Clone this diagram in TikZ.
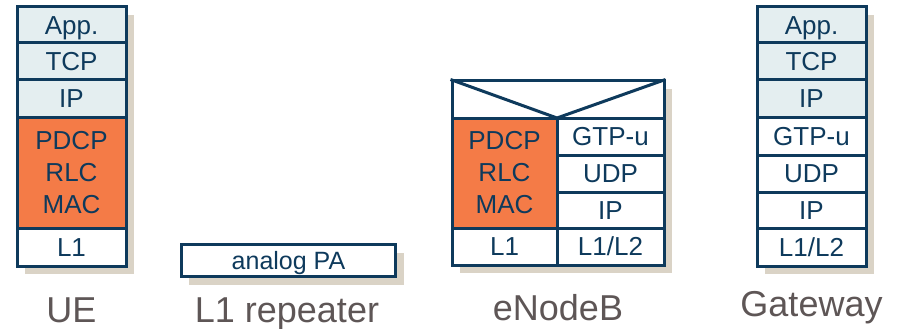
\documentclass[tikz,border=0pt]{standalone}
\usepackage{fontspec}
\setmainfont{Liberation Sans}
\definecolor{navy}{HTML}{0E3A5C}
\definecolor{lightb}{HTML}{E4EEF0}
\definecolor{orng}{HTML}{F47B47}
\definecolor{shad}{HTML}{DAD3C6}
\definecolor{lblgray}{HTML}{5E5656}
\begin{document}
\begin{tikzpicture}[x=1pt,y=-1pt,
  layer/.style={draw=navy, line width=3pt, text=navy, inner sep=0pt,
    font=\fontsize{26}{32}\selectfont, text height=18.6pt, text depth=0pt},
  multi/.style={draw=navy, line width=3pt, text=navy, inner sep=0pt,
    font=\fontsize{26}{32}\selectfont, align=center},
  lb/.style={fill=lightb},
  wh/.style={fill=white},
  og/.style={fill=orng},
  caption/.style={text=lblgray, font=\fontsize{36}{40}\selectfont, anchor=base, inner sep=0pt}
]
\useasboundingbox (0,0) rectangle (900,329);
% shadows
\fill[shad] (25,15) rectangle (134,274);
\fill[shad] (189,253) rectangle (404,285);
\fill[shad] (460,89) rectangle (672,273);
\fill[shad] (765,15) rectangle (874,274);

% UE
\node[layer,lb,minimum width=109pt,minimum height=36pt] (ueapp) at (71.5,25) {App.};
\node[layer,lb,minimum width=109pt,minimum height=37pt] (uetcp) at (71.5,61.5) {TCP};
\node[layer,lb,minimum width=109pt,minimum height=37pt] (ueip) at (71.5,98.5) {IP};
\node[multi,og,minimum width=109pt,minimum height=111pt] (uemac) at (71.5,172.5) {PDCP\\RLC\\MAC};
\node[layer,wh,minimum width=109pt,minimum height=38pt] (uel1) at (71.5,247) {L1};
\node[caption] (uelbl) at (71.5,322) {UE};

% L1 repeater
\node[layer,wh,minimum width=214pt,minimum height=32pt,font=\fontsize{25}{30}\selectfont,text height=17pt] (pa) at (288.5,260.5) {analog PA};
\node[caption] (replbl) at (287,322) {L1 repeater};

% eNodeB
\node[layer,wh,minimum width=212pt,minimum height=37pt] (enbhdr) at (558,99.5) {};
\draw[navy,line width=3pt,line join=round] (enbhdr.north west) -- (557,118) -- (enbhdr.north east);
\node[multi,og,minimum width=105pt,minimum height=110pt] (enbmac) at (504.5,173) {PDCP\\RLC\\MAC};
\node[layer,wh,minimum width=105pt,minimum height=37pt] (enbl1) at (504.5,246.5) {L1};
\node[layer,wh,minimum width=107pt,minimum height=37pt] (enbgtp) at (610.5,136.5) {GTP-u};
\node[layer,wh,minimum width=107pt,minimum height=37pt] (enbudp) at (610.5,173.5) {UDP};
\node[layer,wh,minimum width=107pt,minimum height=36pt] (enbip) at (610.5,210) {IP};
\node[layer,wh,minimum width=107pt,minimum height=37pt] (enbl2) at (610.5,246.5) {L1/L2};
\node[caption] (enblbl) at (558,320) {eNodeB};

% Gateway
\node[layer,lb,minimum width=109pt,minimum height=36pt] (gwapp) at (811.5,25) {App.};
\node[layer,lb,minimum width=109pt,minimum height=37pt] (gwtcp) at (811.5,61.5) {TCP};
\node[layer,lb,minimum width=109pt,minimum height=37pt] (gwip) at (811.5,98.5) {IP};
\node[layer,wh,minimum width=109pt,minimum height=38pt] (gwgtp) at (811.5,136) {GTP-u};
\node[layer,wh,minimum width=109pt,minimum height=37pt] (gwudp) at (811.5,173.5) {UDP};
\node[layer,wh,minimum width=109pt,minimum height=36pt] (gwip2) at (811.5,210) {IP};
\node[layer,wh,minimum width=109pt,minimum height=38pt] (gwl2) at (811.5,247) {L1/L2};
\node[caption] (gwlbl) at (811.5,316) {Gateway};
\end{tikzpicture}
\end{document}
